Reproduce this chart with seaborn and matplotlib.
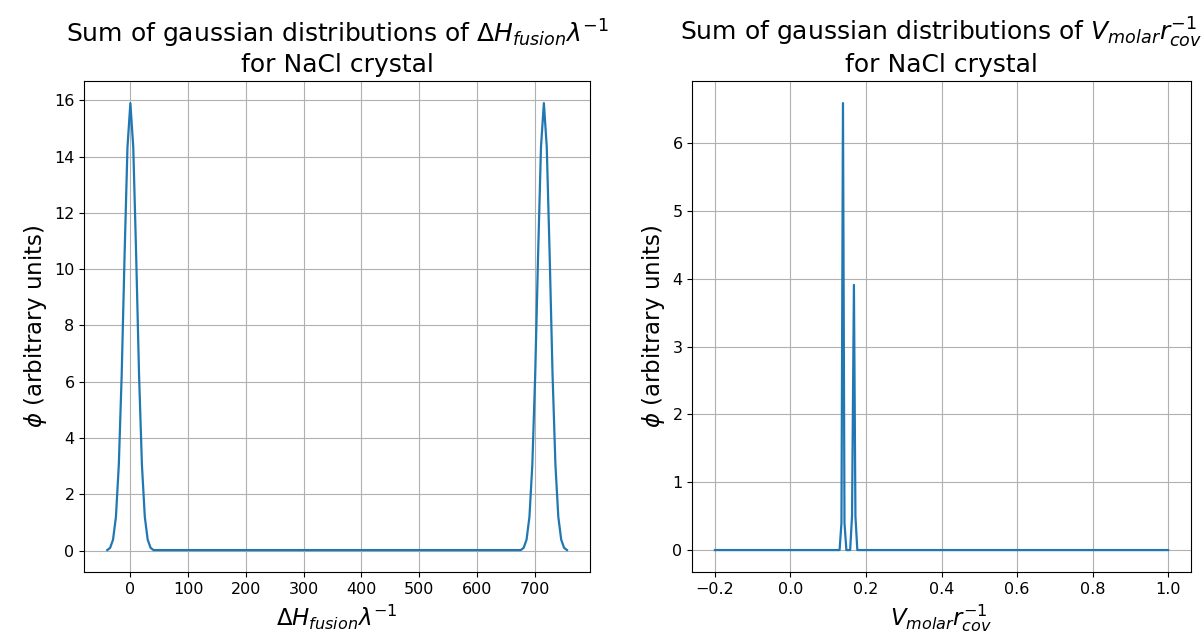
import matplotlib
matplotlib.use("Agg")
import matplotlib.pyplot as plt
import seaborn as sns

# values
dh_x = [-40, -35, -30, -25, -20, -15, -10, -5, 0, 5, 10, 15, 20, 25, 30, 35, 40,
        676, 681, 686, 691, 696, 701, 706, 711, 716, 721, 726, 731, 736, 741, 746, 751, 756]
dh_phi = [0.02, 0.10, 0.39, 1.20, 3.05, 6.27, 10.52, 14.34, 15.9, 14.34, 10.52, 6.27, 3.05, 1.20, 0.39, 0.10, 0.02,
          0.02, 0.10, 0.39, 1.20, 3.05, 6.27, 10.52, 14.34, 15.9, 14.34, 10.52, 6.27, 3.05, 1.20, 0.39, 0.10, 0.02]

v_x = [-0.2, 0.130, 0.135, 0.139, 0.143, 0.148, 0.158, 0.163, 0.168, 0.172, 0.177, 1.0]
v_phi = [0.0, 0.0, 0.4, 6.59, 0.4, 0.0, 0.0, 0.5, 3.91, 0.5, 0.0, 0.0]

fig = plt.figure(figsize=(12.04, 6.41), dpi=100)
ax1 = fig.add_axes([0.0700, 0.107, 0.420, 0.767])
ax2 = fig.add_axes([0.575, 0.107, 0.414, 0.767])

sns.lineplot(x=dh_x, y=dh_phi, ax=ax1, color="#1f77b4", linewidth=1.6)
ax1.set_title("Sum of gaussian distributions of $\\Delta H_{fusion}\\lambda^{-1}$\nfor NaCl crystal", fontsize=18)
ax1.set_xlabel("$\\Delta H_{fusion}\\lambda^{-1}$", fontsize=16.5)
ax1.set_ylabel("$\\phi$ (arbitrary units)", fontsize=16.5)
ax1.grid(True)

sns.lineplot(x=v_x, y=v_phi, ax=ax2, color="#1f77b4", linewidth=1.6)
ax2.set_title("Sum of gaussian distributions of $V_{molar}r_{cov}^{-1}$\nfor NaCl crystal", fontsize=18)
ax2.set_xlabel("$V_{molar}r_{cov}^{-1}$", fontsize=16.5)
ax2.set_ylabel("$\\phi$ (arbitrary units)", fontsize=16.5)
ax2.grid(True)

for ax in (ax1, ax2):
    ax.tick_params(labelsize=11.5)

fig.savefig("out.png", dpi=100)
